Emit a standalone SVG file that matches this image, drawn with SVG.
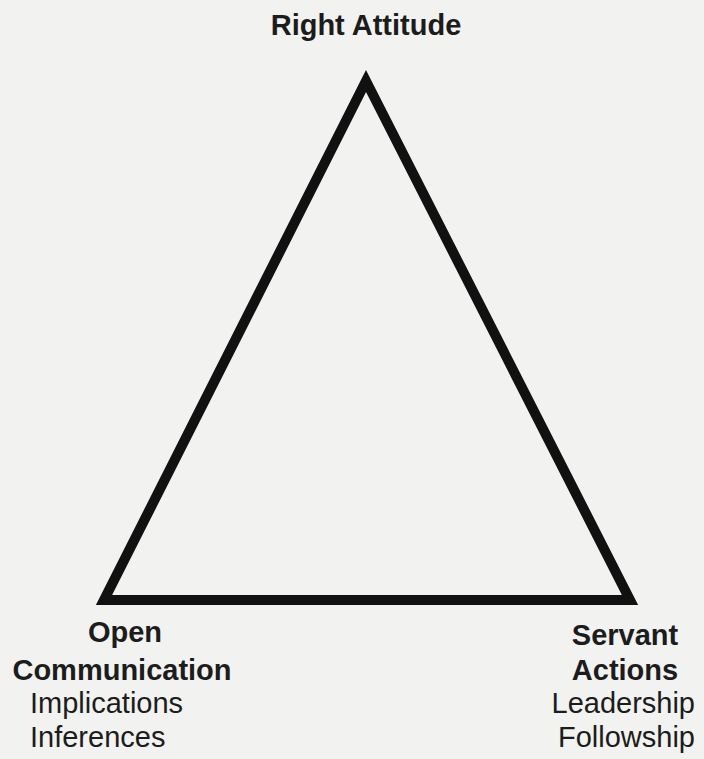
<svg xmlns="http://www.w3.org/2000/svg" width="704" height="759" viewBox="0 0 704 759">
<style>
.t{font-family:"Liberation Sans",Arial,Helvetica,sans-serif;font-size:29px;fill:#1c1c1c}
.b{font-weight:bold}
.tri{fill:none;stroke:#111;stroke-width:10;stroke-linejoin:miter;stroke-miterlimit:10}
</style>
<rect width="704" height="759" fill="#f2f2f0"/>
<g id="connectors">
<polygon class="tri" points="366,81 104,600 630,600"/>
</g>
<g id="right-attitude">
<text class="t b" x="366" y="35" text-anchor="middle">Right Attitude</text>
</g>
<g id="open-communication">
<text class="t b" x="125" y="642" text-anchor="middle">Open</text>
<text class="t b" x="122" y="680" text-anchor="middle">Communication</text>
<text class="t" x="30" y="713">Implications</text>
<text class="t" x="30" y="747">Inferences</text>
</g>
<g id="servant-actions">
<text class="t b" x="625" y="645" text-anchor="middle">Servant</text>
<text class="t b" x="625" y="680" text-anchor="middle">Actions</text>
<text class="t" x="695" y="713" text-anchor="end">Leadership</text>
<text class="t" x="695" y="747" text-anchor="end">Followship</text>
</g>
</svg>
